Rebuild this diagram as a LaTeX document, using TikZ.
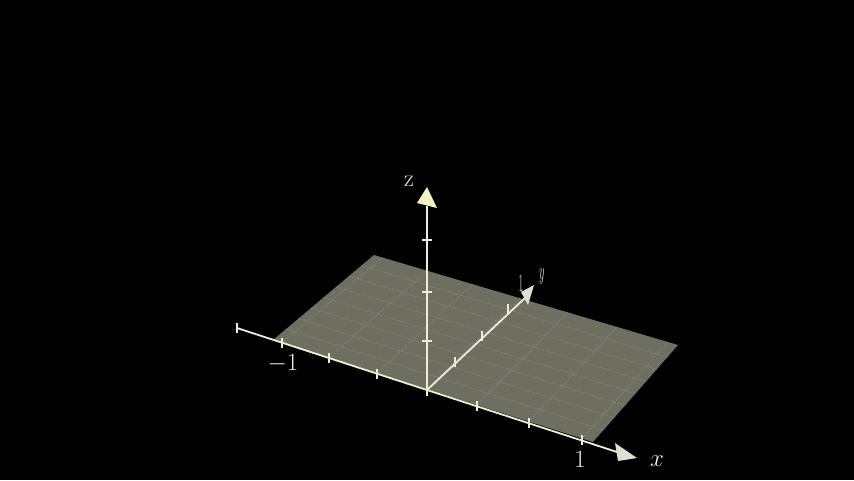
\documentclass[tikz,border=0pt]{standalone}
\usepackage{tikz}
\usetikzlibrary{calc}
\definecolor{planegray}{RGB}{110,110,97}
\definecolor{gridgray}{RGB}{134,134,138}
\definecolor{axiscream}{RGB}{238,238,210}
\definecolor{tipcream}{RGB}{242,242,196}
\definecolor{tipgray}{RGB}{222,222,214}
\definecolor{labelwhite}{RGB}{238,238,238}

\begin{document}
\begin{tikzpicture}[x=1pt,y=-1pt,
  axisline/.style={draw=axiscream, line width=1.8pt},
  tickmark/.style={draw=axiscream, line width=1.2pt},
  gridline/.style={draw=gridgray, line width=0.8pt, dash pattern=on 1.5pt off 1.5pt},
  axislabel/.style={text=labelwhite, inner sep=0pt, font=\fontsize{26}{30}\selectfont}]
  \fill[black] (0,0) rectangle (854,480);
  \useasboundingbox (0,0) rectangle (854,480);

  \coordinate (FL) at (273,340);
  \coordinate (BL) at (374,255);
  \coordinate (BR) at (678,345);
  \coordinate (FR) at (593,442);
  \fill[planegray] (FL) -- (BL) -- (BR) -- (FR) -- cycle;
  \foreach \t in {0.125,0.25,...,0.875}
    \draw[gridline] ($(FL)!\t!(BL)$) -- ($(FR)!\t!(BR)$);
  \foreach \s in {0.028,0.175,0.325,0.481,0.638,0.8,0.966}
    \draw[gridline] ($(FL)!\s!(FR)$) -- ($(BL)!\s!(BR)$);

  \coordinate (O) at (427,390);
  \coordinate (xneg) at (237,328);
  \coordinate (xbase) at (617,452);
  \coordinate (ybase) at (525,298);
  \coordinate (zlow) at (427,396);
  \coordinate (zbase) at (427,206);

  \draw[axisline] (xneg) -- (xbase);
  \foreach \tx in {237,282,329,377,427,477,529,582}
    \draw[tickmark] (\tx,{328+(\tx-237)*0.325-5}) -- ++(0,10);
  \fill[tipgray] (615,443) -- (637,458) -- (618,461) -- cycle;

  \draw[axisline] (O) -- (ybase);
  \foreach \tx/\ty in {455/362,482/336,508/309}
    \draw[tickmark] (\tx,\ty-5) -- ++(0,10);
  \fill[tipgray] (521,292) -- (534,285) -- (528,305) -- cycle;

  \draw[axisline] (zlow) -- (zbase);
  \foreach \ty in {341,292,240}
    \draw[tickmark] (422,\ty) -- ++(10,0);
  \fill[tipcream] (417,203) -- (427,187) -- (437,208) -- cycle;

  \node[axislabel] (xlabel) at (657,461) {$x$};
  \node[axislabel] (xone) at (580,459) {$1$};
  \node[axislabel] (xmone) at (283,364) {$-1$};
  \node[axislabel] (ylabel) at (542,277) {\scalebox{0.4}[1]{$y$}};
  \node[axislabel] (yone) at (521,283) {\scalebox{0.4}[1]{$1$}};
  \node[axislabel, font=\fontsize{24}{28}\selectfont] (zlabel) at (409,181) {z};
\end{tikzpicture}
\end{document}
